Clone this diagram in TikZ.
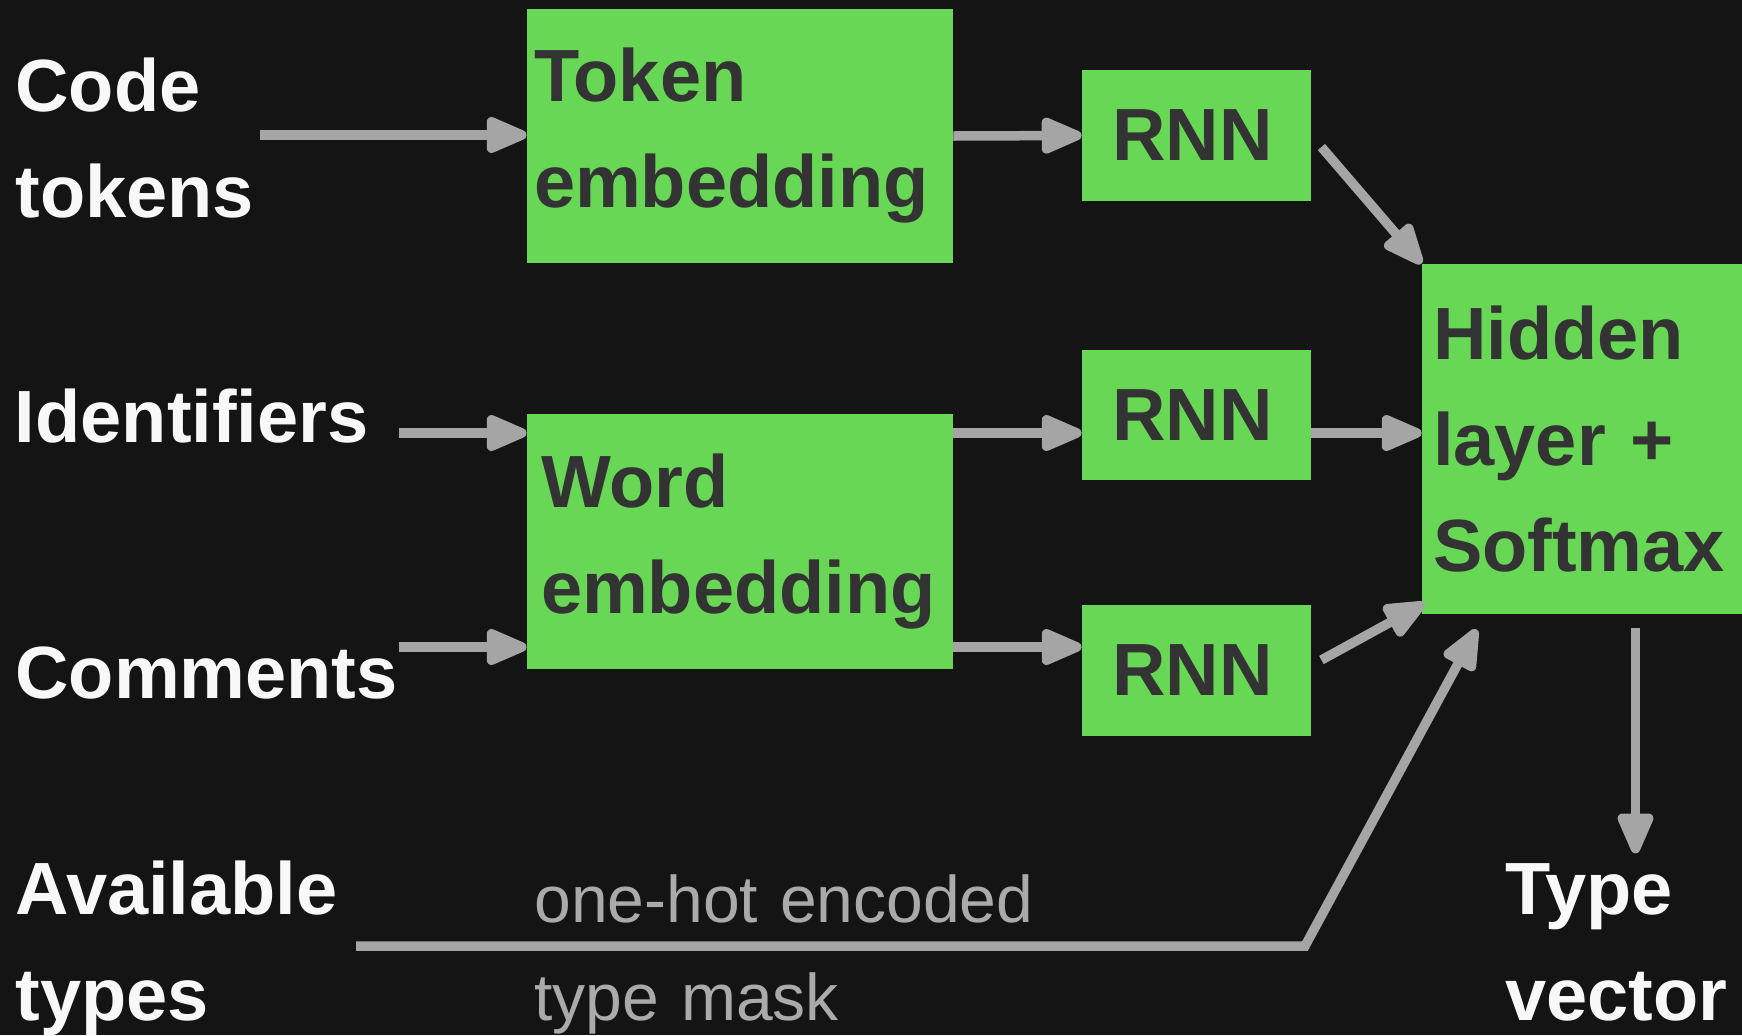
\documentclass[tikz,border=0pt]{standalone}
\usepackage{fontspec}
\setmainfont{Liberation Sans}
\usetikzlibrary{arrows.meta,calc}
\definecolor{bgcol}{RGB}{20,20,20}
\definecolor{boxgreen}{RGB}{103,215,85}
\definecolor{boxtext}{RGB}{51,51,51}
\definecolor{linegray}{RGB}{165,165,165}
\definecolor{notegray}{RGB}{170,170,170}
\definecolor{lbltext}{RGB}{248,248,248}
\tikzset{
  blk/.style={fill=boxgreen,text=boxtext,inner ysep=0pt,font=\fontsize{37}{53}\selectfont\bfseries},
  lbl/.style={text=lbltext,inner sep=0pt,anchor=base west,align=left,text width=190pt,font=\fontsize{37}{53}\selectfont\bfseries},
  note/.style={text=notegray,inner sep=0pt,anchor=base west,align=left,text width=260pt,font=\fontsize{33}{49}\selectfont},
  arr/.style={draw=linegray,line width=4.75pt,-{Triangle[length=24pt,width=19pt,round]}}
}
\begin{document}
\begin{tikzpicture}[x=0.5pt,y=-0.5pt]
  \fill[bgcol] (0,0) rectangle (1742,1035);
  \useasboundingbox (0,0) rectangle (1742,1035);
  % green blocks
  \node[blk,minimum width=213pt,minimum height=127pt,text width=206pt,inner xsep=3.5pt,align=left] (tok) at (740,136) {Token\\embedding};
  \node[blk,minimum width=213pt,minimum height=127.5pt,text width=199pt,inner xsep=7pt,align=left] (word) at (740,541.5) {Word\\embedding};
  \node[blk,minimum width=114.5pt,minimum height=65.5pt] (rnn1) at (1196.5,135.5) {\hspace{-4pt}RNN};
  \node[blk,minimum width=114.5pt,minimum height=65pt] (rnn2) at (1196.5,415) {\hspace{-4pt}RNN};
  \node[blk,minimum width=114.5pt,minimum height=65.5pt] (rnn3) at (1196.5,670.5) {\hspace{-4pt}RNN};
  \node[blk,minimum width=159.5pt,minimum height=175pt,text width=149.5pt,inner xsep=5.5pt,align=left] (hidden) at (1582.5,439) {Hidden\\layer +\\Softmax};
  % inputs and output
  \node[lbl] (code) at (15,111) {Code\\tokens};
  \node[lbl] (ident) at (14.5,442) {Identifiers};
  \node[lbl] (comm) at (15,698) {Comments};
  \node[lbl] (avail) at (15,914) {Available\\types};
  \node[lbl,text width=110pt] (tvec) at (1505,914) {Type\\vector};
  \node[note] (mask) at (534,922) {one-hot encoded\\type mask};
  \coordinate (codein) at (260,135);
  \coordinate (identin) at (399,433);
  \coordinate (commin) at (399,647);
  \coordinate (availin) at (356,946);
  \coordinate (bend) at (1305,946);
  \draw[arr] (codein) -- (codein -| tok.west);
  \draw[arr] (tok.east) -- (rnn1.west);
  \draw[arr] ($(rnn1.east)+(10,11.5)$) -- (hidden.north west);
  \draw[arr] (identin) -- (identin -| word.west);
  \draw[arr] (word.east |- identin) -- (rnn2.west |- identin);
  \draw[arr] (rnn2.east |- identin) -- (hidden.west |- identin);
  \draw[arr] (commin) -- (commin -| word.west);
  \draw[arr] (word.east |- commin) -- (rnn3.west |- commin);
  \draw[arr] ($(rnn3.east)+(10,-10.5)$) -- ($(hidden.south west)+(3,-11)$);
  \draw[arr] (availin) -- (bend) -- ($(hidden.south west)+(55,15)$);
  \draw[arr] ($(hidden.south)+(53,14)$) -- ($(hidden.south)+(53,239)$);
\end{tikzpicture}
\end{document}
